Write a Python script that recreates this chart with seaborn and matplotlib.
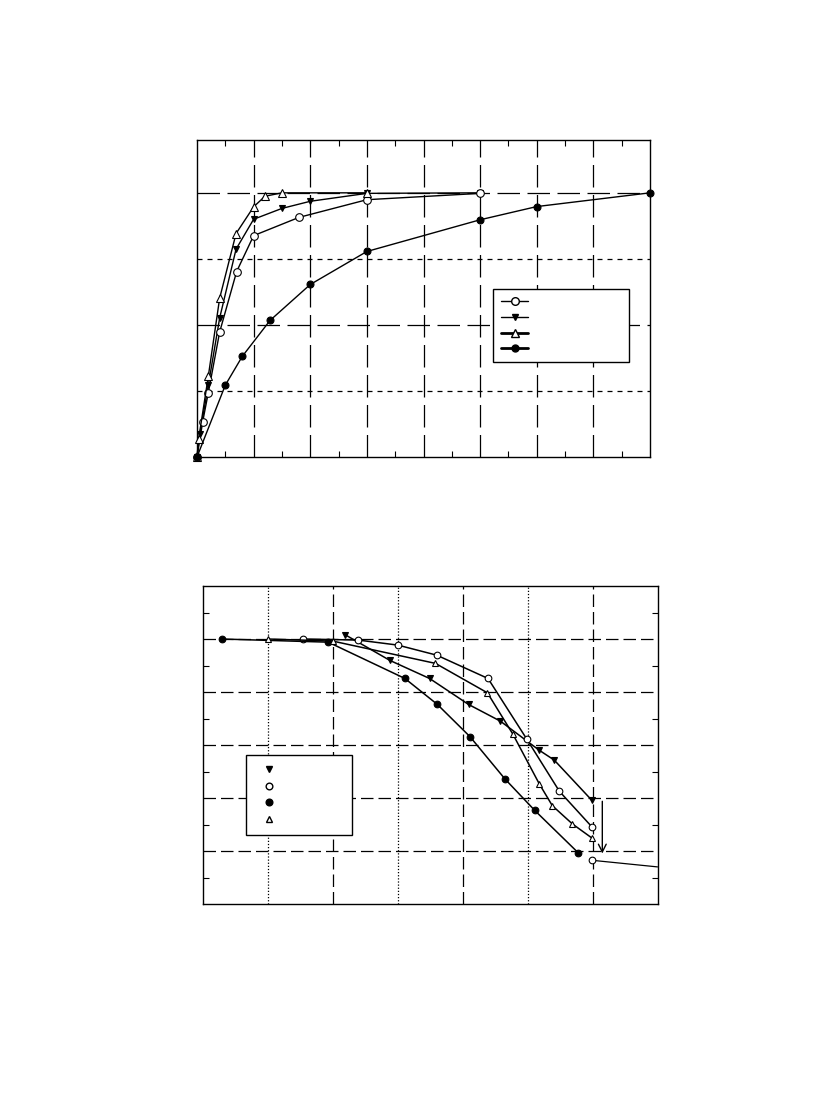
import numpy as np
import pandas as pd
import matplotlib
matplotlib.use("Agg")
import matplotlib.pyplot as plt
from matplotlib.lines import Line2D
from matplotlib.ticker import MultipleLocator, NullFormatter
import seaborn as sns

sns.set_theme(style="white")
plt.rcParams['font.family'] = ['DejaVu Sans']

# ---------------- top panel data ----------------
top_open_circle_x = [0, 0.1, 0.2, 0.4, 0.7, 1.0, 1.8, 3.0, 5.0]
top_open_circle_y = [0, 0.133, 0.244, 0.473, 0.702, 0.838, 0.907, 0.974, 0.998]

top_tri_down_x = [0, 0.05, 0.2, 0.4, 0.69, 1.0, 1.5, 2.0, 3.0, 5.0]
top_tri_down_y = [0, 0.087, 0.272, 0.526, 0.787, 0.900, 0.941, 0.968, 0.998, 1.0]

top_tri_up_x = [0, 0.03, 0.2, 0.4, 0.69, 1.0, 1.2, 1.5, 3.0]
top_tri_up_y = [0, 0.07, 0.306, 0.601, 0.846, 0.947, 0.987, 1.0, 1.0]

top_filled_circle_x = [0, 0.5, 0.8, 1.29, 2.0, 3.0, 5.0, 6.0, 8.0]
top_filled_circle_y = [0, 0.272, 0.381, 0.517, 0.653, 0.778, 0.898, 0.948, 1.0]

# ---------------- bottom panel data ----------------
bot_tri_down_x = [2.19, 2.88, 3.49, 4.09, 4.58, 5.18, 5.41, 5.99]
bot_tri_down_y = [1.016, 0.919, 0.851, 0.753, 0.690, 0.580, 0.543, 0.391]

bot_open_circle_x = [1.54, 2.39, 3.0, 3.6, 4.39, 4.99, 5.49, 5.99]
bot_open_circle_y = [1.0, 0.996, 0.977, 0.939, 0.851, 0.621, 0.425, 0.291]

bot_filled_circle_x = [0.29, 1.93, 3.11, 3.61, 4.11, 4.65, 5.11, 5.78]
bot_filled_circle_y = [1.0, 0.988, 0.851, 0.753, 0.632, 0.472, 0.353, 0.193]

bot_tri_up_x = [1.0, 2.0, 3.58, 4.38, 4.77, 5.18, 5.38, 5.69, 5.99]
bot_tri_up_y = [1.0, 0.992, 0.908, 0.797, 0.642, 0.453, 0.371, 0.302, 0.249]

bot_tail_x = [5.99, 7.0]
bot_tail_y = [0.165, 0.14]

arrow_x = 6.15
arrow_y_start = 0.398
arrow_y_end = 0.18

fig = plt.figure(figsize=(8.16, 11.15), dpi=100)

# ================= TOP =================
ax1 = fig.add_axes([197/816, 1-457/1115, 453/816, 317/1115])
ax1.set_xlim(0, 8)
ax1.set_ylim(0, 1.2)

for gx in range(1, 8):
    ax1.axvline(gx, color='black', lw=0.9, dashes=(18, 6), zorder=1)
for gy, style in [(0.25, (4, 4)), (0.5, (18, 6)), (0.75, (4, 4)), (1.0, (18, 6))]:
    ax1.axhline(gy, color='black', lw=0.9, dashes=style, zorder=1)

# drawing order: triangle-down, open circle, triangle-up, filled circle
series_top = [
    (top_tri_down_x, top_tri_down_y, 'v', 'black', 4.8, 3),
    (top_open_circle_x, top_open_circle_y, 'o', 'white', 5.5, 4),
    (top_tri_up_x, top_tri_up_y, '^', 'white', 5.2, 5),
    (top_filled_circle_x, top_filled_circle_y, 'o', 'black', 5.0, 6),
]
for xs, ys, m, fc, ms, z in series_top:
    df = pd.DataFrame({'x': xs, 'y': ys})
    sns.lineplot(data=df, x='x', y='y', ax=ax1, color='black', lw=1.0,
                 marker=m, markerfacecolor=fc, markeredgecolor='black',
                 markersize=ms, markeredgewidth=0.8, zorder=z, clip_on=False)

ax1.xaxis.set_major_locator(MultipleLocator(1))
ax1.xaxis.set_minor_locator(MultipleLocator(0.5))
ax1.yaxis.set_major_locator(MultipleLocator(0.25))
ax1.tick_params(axis='x', which='minor', direction='in', length=4, width=0.8,
                top=True, bottom=True, color='black')
ax1.tick_params(axis='both', which='major', length=0)
ax1.xaxis.set_major_formatter(NullFormatter())
ax1.yaxis.set_major_formatter(NullFormatter())
ax1.set_xlabel('')
ax1.set_ylabel('')
for sp in ax1.spines.values():
    sp.set_color('black')
    sp.set_linewidth(1.0)

handles_top = [
    Line2D([], [], color='black', lw=1.0, marker='o', markerfacecolor='white', markeredgecolor='black', markersize=5.5),
    Line2D([], [], color='black', lw=1.0, marker='v', markerfacecolor='black', markeredgecolor='black', markersize=4.8),
    Line2D([], [], color='black', lw=2.0, marker='^', markerfacecolor='white', markeredgecolor='black', markersize=5.2),
    Line2D([], [], color='black', lw=2.0, marker='o', markerfacecolor='black', markeredgecolor='black', markersize=5.0),
]
leg1 = ax1.legend(handles_top, [' '] * 4,
                  bbox_to_anchor=((493-197)/453, 0, 136/453, (457-289)/317),
                  loc='upper left', mode='expand', borderaxespad=0,
                  frameon=True, fancybox=False, framealpha=1, edgecolor='black',
                  fontsize=8, handlelength=2.4, labelspacing=0.5, borderpad=0.75)
leg1.get_frame().set_linewidth(1.0)

# ================= BOTTOM =================
ax2 = fig.add_axes([203/816, 1-904/1115, 454.5/816, 318/1115])
ax2.set_xlim(0, 7)
ax2.set_ylim(0, 1.2)

for gx in range(1, 7):
    if gx % 2 == 1:
        ax2.axvline(gx, color='black', lw=0.9, dashes=(1, 1.5), zorder=1)
    else:
        ax2.axvline(gx, color='black', lw=0.9, dashes=(10, 4), zorder=1)
for gy in [0.2, 0.4, 0.6, 0.8, 1.0]:
    ax2.axhline(gy, color='black', lw=0.9, dashes=(10, 4), zorder=1)

series_bot = [
    (bot_tri_down_x, bot_tri_down_y, 'v', 'black', 5),
    (bot_open_circle_x, bot_open_circle_y, 'o', 'white', 4.8),
    (bot_filled_circle_x, bot_filled_circle_y, 'o', 'black', 4.8),
    (bot_tri_up_x, bot_tri_up_y, '^', 'white', 4.8),
]
for xs, ys, m, fc, ms in series_bot:
    df = pd.DataFrame({'x': xs, 'y': ys})
    sns.lineplot(data=df, x='x', y='y', ax=ax2, color='black', lw=1.1,
                 marker=m, markerfacecolor=fc, markeredgecolor='black',
                 markersize=ms, markeredgewidth=0.8, zorder=3)

df_tail = pd.DataFrame({'x': bot_tail_x, 'y': bot_tail_y})
sns.lineplot(data=df_tail, x='x', y='y', ax=ax2, color='black', lw=0.9,
             marker=None, zorder=3)
sns.scatterplot(x=bot_tail_x[:1], y=bot_tail_y[:1], ax=ax2, marker='o',
                facecolor='white', edgecolor='black', s=23, linewidth=0.8, zorder=4)

ax2.annotate('', xy=(arrow_x, arrow_y_end), xytext=(arrow_x, arrow_y_start),
             arrowprops=dict(arrowstyle='->', color='black', lw=1.0,
                             mutation_scale=14))

ax2.yaxis.set_major_locator(MultipleLocator(0.2))
ax2.yaxis.set_minor_locator(MultipleLocator(0.1))
ax2.xaxis.set_major_locator(MultipleLocator(1))
ax2.tick_params(axis='y', which='minor', direction='in', length=4, width=0.8,
                left=True, right=True, color='black')
ax2.tick_params(axis='both', which='major', length=0)
ax2.xaxis.set_major_formatter(NullFormatter())
ax2.yaxis.set_major_formatter(NullFormatter())
ax2.set_xlabel('')
ax2.set_ylabel('')
for sp in ax2.spines.values():
    sp.set_color('black')
    sp.set_linewidth(1.0)

handles_bot = [
    Line2D([], [], ls='none', marker='v', markerfacecolor='black', markeredgecolor='black', markersize=5),
    Line2D([], [], ls='none', marker='o', markerfacecolor='white', markeredgecolor='black', markersize=4.8),
    Line2D([], [], ls='none', marker='o', markerfacecolor='black', markeredgecolor='black', markersize=4.8),
    Line2D([], [], ls='none', marker='^', markerfacecolor='white', markeredgecolor='black', markersize=4.8),
]
leg2 = ax2.legend(handles_bot, [' '] * 4,
                  bbox_to_anchor=((246-203)/454.5, 0, 106/454.5, (904-755)/318),
                  loc='upper left', mode='expand', borderaxespad=0,
                  frameon=True, fancybox=False, framealpha=1, edgecolor='black',
                  fontsize=8, handlelength=2.4, labelspacing=0.6, borderpad=0.9)
leg2.get_frame().set_linewidth(1.0)

fig.savefig('out.png', dpi=100, facecolor='white')
